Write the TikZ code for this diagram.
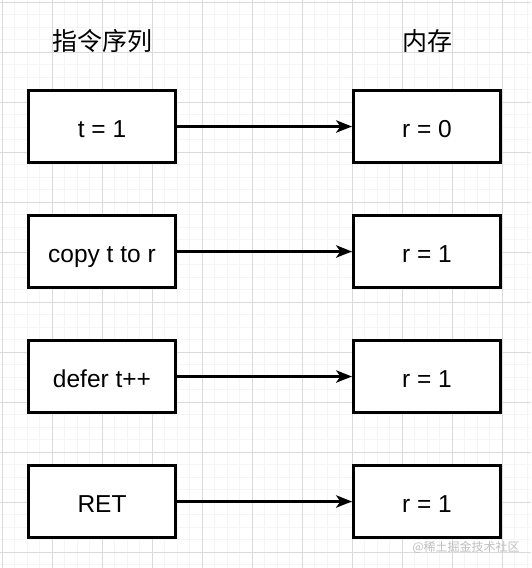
\documentclass[tikz,border=0pt]{standalone}
\usepackage{fontspec}
\setmainfont{Liberation Sans}
\newfontfamily\cjk{Noto Sans CJK SC}
\usetikzlibrary{arrows.meta}
\definecolor{minorgrid}{HTML}{F5F5F5}
\definecolor{majorgrid}{HTML}{DADADA}
\tikzset{box/.style={draw, line width=2.6pt, fill=white,
  minimum width=147.5pt, minimum height=72.5pt,
  text height=21pt, text depth=0pt,
  font=\fontsize{24.5}{28}\selectfont}}
\tikzset{link/.style={line width=2.2pt,
  -{Stealth[length=16pt, width=12.5pt, inset=4.5pt]}}}
\tikzset{head/.style={font=\cjk\fontsize{25}{29}\selectfont}}

\begin{document}
\begin{tikzpicture}[x=1pt, y=-1pt]
      \useasboundingbox (0, 0) rectangle (531, 568);
      \fill [white] (0, 0) rectangle (531, 568);

      % grid
      \foreach \k in {0,...,42} {
        \draw [minorgrid, line width=0.8pt] (2 + 12.5*\k, 0) -- (2 + 12.5*\k, 568);
      }
      \foreach \k in {0,...,45} {
        \draw [minorgrid, line width=0.8pt] (0, 2 + 12.5*\k) -- (531, 2 + 12.5*\k);
      }
      \foreach \k in {0,...,10} {
        \draw [majorgrid, line width=0.8pt] (27 + 50*\k - 25, 0) -- (27 + 50*\k - 25, 568);
        \draw [majorgrid, line width=0.8pt] (0, 2 + 50*\k) -- (531, 2 + 50*\k);
      }
      \draw [majorgrid, line width=0.8pt] (0, 552) -- (531, 552);

      \node [head] (ops) at (102.5, 41) {指令序列};
      \node [head] (mem) at (427.5, 41) {内存};

      \node [box] (t1) at (102, 126.5) {t = 1};
      \node [box] (copy) at (102, 251.5) {copy t to r};
      \node [box] (defer) at (102, 376.5) {defer t++};
      \node [box] (ret) at (102, 501.5) {RET};

      \node [box] (r0) at (427, 126.5) {r = 0};
      \node [box] (r1) at (427, 251.5) {r = 1};
      \node [box] (r2) at (427, 376.5) {r = 1};
      \node [box] (r3) at (427, 501.5) {r = 1};

      \draw [link] (t1) -- (r0);
      \draw [link] (copy) -- (r1);
      \draw [link] (defer) -- (r2);
      \draw [link] (ret) -- (r3);

      \node [gray!50, font=\cjk\fontsize{12}{14}\selectfont] (mark) at (466, 547) {@稀土掘金技术社区};
    \end{tikzpicture}
\end{document}
